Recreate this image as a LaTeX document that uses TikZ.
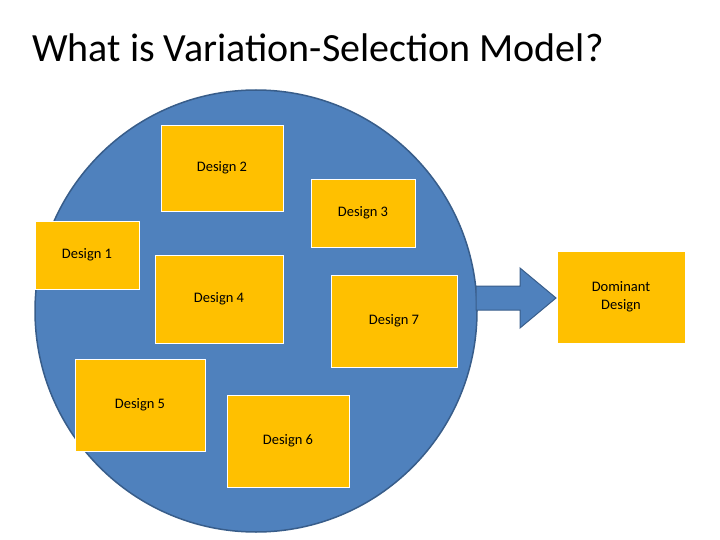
\documentclass[tikz,border=0pt]{standalone}
\usepackage{fontspec}
\setmainfont{Carlito}
\definecolor{poolblue}{HTML}{4F81BD}
\definecolor{pooledge}{HTML}{385D8A}
\definecolor{boxgold}{HTML}{FFC000}

\begin{document}
\begin{tikzpicture}[x=1pt,y=-1pt,
	design/.style={fill=boxgold, draw=white, line width=.6pt, inner sep=0pt, font=\fontsize{14.5}{18}\selectfont, align=center}]
	\useasboundingbox (0,0) rectangle (720,540);
	%title
	\node[anchor=west, inner sep=0pt, font=\fontsize{40}{46}\selectfont] (title) at (32,48) {What is Variation-Selection Model?};
	%the pool of designs
	\fill[poolblue, draw=pooledge, line width=1.5pt] (256,311) circle (221);
	%designs placed by hand
	\node[design, minimum width=122, minimum height=86] (d2) at (222,168) {Design 2};
	\node[design, minimum width=104, minimum height=68] (d3) at (363,213) {Design 3};
	\node[design, minimum width=104, minimum height=68] (d1) at (87,255) {Design 1};
	\node[design, minimum width=128, minimum height=88] (d4) at (219,299) {Design 4};
	\node[design, minimum width=126, minimum height=92] (d7) at (394,321) {Design 7};
	\node[design, minimum width=130, minimum height=92] (d5) at (140,405) {Design 5};
	\node[design, minimum width=122, minimum height=92] (d6) at (288,441) {Design 6};
	\node[design, minimum width=128, minimum height=92] (dom) at (621,297) {Dominant\\Design};
	%% selection arrow
	\draw[fill=poolblue, draw=pooledge, line width=1pt] (476,286) -- (520,286) -- (520,268) -- (556,298)
		-- (520,328) -- (520,310) -- (476,310) -- cycle;
\end{tikzpicture}
\end{document}
